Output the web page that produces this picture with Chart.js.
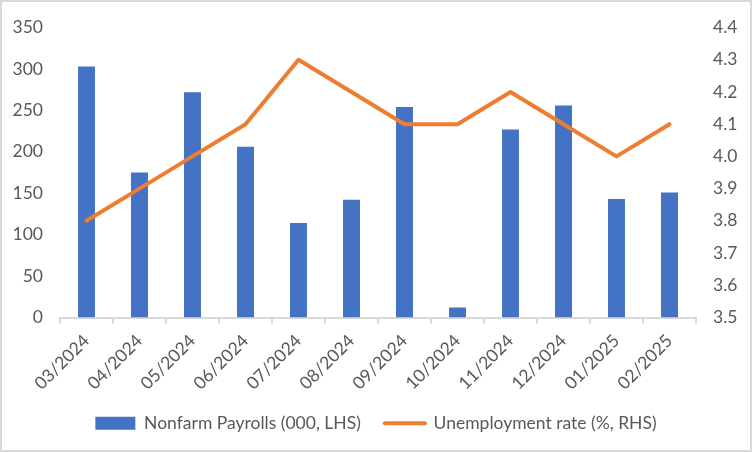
<!DOCTYPE html>
<html>
<head>
<meta charset="utf-8">
<script src="https://cdn.jsdelivr.net/npm/chart.js@4.4.1/dist/chart.umd.min.js"></script>
<style>
  html, body { margin: 0; padding: 0; background: #fff; }
  #wrap { width: 752px; height: 452px; position: relative; }
</style>
</head>
<body>
<div id="wrap"><canvas id="chart" width="752" height="452"></canvas></div>
<script>
// Chart data
const months = ['03/2024', '04/2024', '05/2024', '06/2024', '07/2024', '08/2024',
                '09/2024', '10/2024', '11/2024', '12/2024', '01/2025', '02/2025'];
const payrolls = [303, 175, 272, 206, 114, 142, 254, 12, 227, 256, 143, 151];
const unemployment = [3.8, 3.9, 4.0, 4.1, 4.3, 4.2, 4.1, 4.1, 4.2, 4.1, 4.0, 4.1];

const textColor = '#595959';
const fontFamily = 'Lato, "Liberation Sans", sans-serif';
const fontSize = 17.5;

// white background + light frame like the exported picture
const framePlugin = {
    id: 'frame',
    beforeDraw(chart) {
        const ctx = chart.ctx;
        ctx.save();
        ctx.fillStyle = '#fff';
        ctx.fillRect(0, 0, chart.width, chart.height);
        ctx.restore();
    },
    afterDraw(chart) {
        const ctx = chart.ctx;
        ctx.save();
        ctx.strokeStyle = '#d9d9d9';
        ctx.lineWidth = 2;
        ctx.strokeRect(1, 1, chart.width - 2, chart.height - 2);
        ctx.restore();
    }
};

const ctx = document.getElementById('chart').getContext('2d');
new Chart(ctx, {
    type: 'bar',
    data: {
        labels: months,
        datasets: [{
            type: 'line',
            label: 'Unemployment rate (%, RHS)',
            data: unemployment,
            yAxisID: 'y1',
            borderColor: '#ED7D31',
            backgroundColor: '#ED7D31',
            borderWidth: 4,
            pointRadius: 0,
            borderJoinStyle: 'round',
            borderCapStyle: 'round',
            tension: 0,
            order: 0
        }, {
            label: 'Nonfarm Payrolls (000, LHS)',
            data: payrolls,
            yAxisID: 'y',
            backgroundColor: '#4472C4',
            barPercentage: 0.32,
            categoryPercentage: 1,
            order: 1
        }]
    },
    options: {
        responsive: false,
        animation: false,
        layout: {
            padding: { top: 24, left: 0, right: 0, bottom: 10 }
        },
        scales: {
            x: {
                offset: true,
                grid: {
                    display: true,
                    offset: true,
                    drawOnChartArea: false,
                    color: '#d9d9d9',
                    tickLength: 6,
                    lineWidth: 2
                },
                border: { display: true, color: '#d9d9d9', width: 2 },
                ticks: {
                    color: textColor,
                    font: { family: fontFamily, size: fontSize },
                    maxRotation: 45,
                    minRotation: 45,
                    padding: 7
                },
                afterFit(scale) { scale.height = 73; }
            },
            y: {
                position: 'left',
                min: 0,
                max: 350,
                grid: { display: false, drawTicks: false },
                border: { display: false },
                ticks: {
                    stepSize: 50,
                    color: textColor,
                    font: { family: fontFamily, size: fontSize },
                    padding: 17
                },
                afterFit(scale) { scale.width = 60; }
            },
            y1: {
                position: 'right',
                min: 3.5,
                max: 4.4,
                grid: { display: false, drawTicks: false },
                border: { display: false },
                ticks: {
                    stepSize: 0.1,
                    color: textColor,
                    font: { family: fontFamily, size: fontSize },
                    padding: 17,
                    callback: v => v.toFixed(1)
                },
                afterFit(scale) { scale.width = 56; }
            }
        },
        plugins: {
            legend: {
                position: 'bottom',
                reverse: true,
                labels: {
                    color: textColor,
                    font: { family: fontFamily, size: fontSize },
                    usePointStyle: true,
                    pointStyleWidth: 40,
                    boxHeight: 13,
                    padding: 24,
                    generateLabels(chart) {
                        const items = Chart.defaults.plugins.legend.labels.generateLabels(chart);
                        items.forEach(item => {
                            if (item.datasetIndex === 0) {
                                item.pointStyle = 'line';
                                item.lineWidth = 4;
                                item.lineCap = 'round';
                            } else {
                                item.pointStyle = 'rect';
                                item.lineWidth = 0;
                            }
                        });
                        return items;
                    }
                }
            },
            tooltip: { enabled: false }
        }
    },
    plugins: [framePlugin]
});
</script>
</body>
</html>
